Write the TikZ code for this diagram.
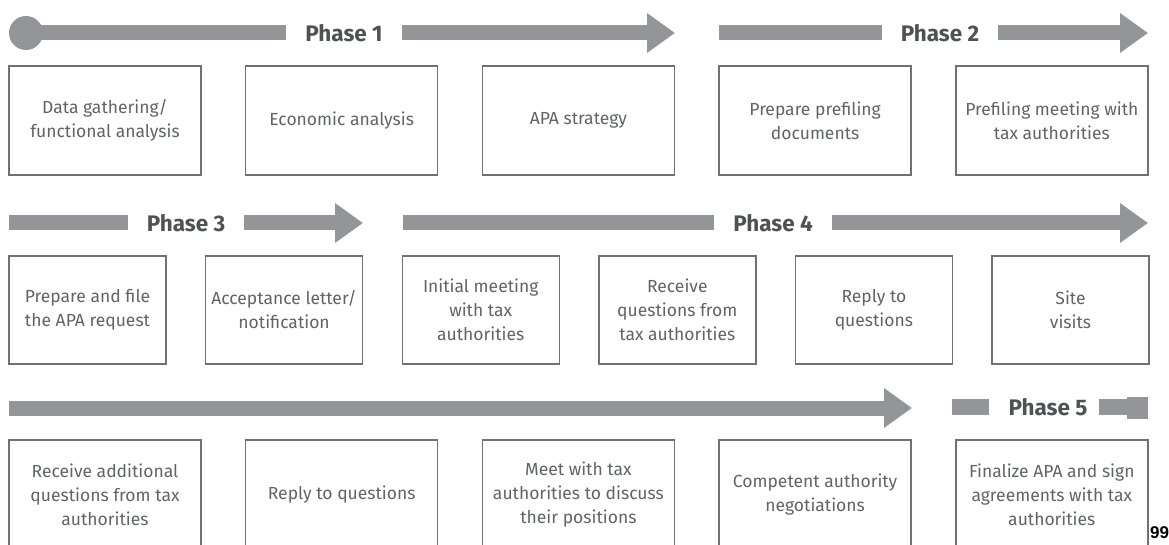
\documentclass[tikz,border=0pt]{standalone}
\usepackage{fontspec}
\setmainfont{Fira Sans}
\newfontfamily\pagenumfont{Liberation Sans}
\usetikzlibrary{positioning, arrows.meta}
\definecolor{bargray}{RGB}{147,149,152}
\definecolor{linegray}{RGB}{112,113,116}
\definecolor{textgray}{RGB}{98,99,102}
\definecolor{phasegray}{RGB}{80,81,84}

\begin{document}
\begin{tikzpicture}[
        x=1pt, y=-1pt,
        node distance=43.3pt and 43.3pt,
        every node/.style={font=\fontsize{17.5}{24}\selectfont, text=textgray},
        box/.style={draw=linegray, line width=1.4pt, rectangle, minimum width=192pt, minimum height=109pt, align=center, inner sep=2pt},
        narrowbox/.style={box, minimum width=157pt, minimum height=108pt},
        phase/.style={font=\fontsize{22.5}{26}\selectfont\bfseries, text=phasegray, inner xsep=19pt, inner ysep=0pt},
        bar/.style={draw=bargray, line width=15pt},
        arrowbar/.style={bar, -{Triangle[length=28pt, width=38pt]}}
    ]

    \useasboundingbox (0,0) rectangle (1169,545);
    \clip (0,0) rectangle (1169,545);

    % Row 1
    \node[box] (gather) at (105,120.5) {Data gathering/\\functional analysis};
    \node[box, right=of gather] (economic) {Economic analysis};
    \node[box, right=of economic] (strategy) {APA strategy};
    \node[box, right=of strategy] (prepdocs) {Prepare prefiling\\documents};
    \node[box, right=of prepdocs] (prefmeet) {Prefiling meeting with\\tax authorities};

    \node[phase] (ph1) at (344,33) {Phase 1};
    \node[phase] (ph2) at (940,33) {Phase 2};

    \coordinate (start1) at (26,33);
    \coordinate (end1) at (675,33);
    \coordinate (start2) at (719,33);
    \coordinate (end2) at (1148,33);

    \fill[bargray] (start1) circle (17pt);
    \draw[bar] (start1) -- (ph1.west);
    \draw[arrowbar] (ph1.east) -- (end1);
    \draw[bar] (start2) -- (ph2.west);
    \draw[arrowbar] (ph2.east) -- (end2);

    % Row 2
    \node[narrowbox] (filereq) at (87.5,310) {Prepare and file\\the APA request};
    \node[narrowbox, right=38.2pt of filereq] (accept) {Acceptance letter/\\notification};
    \node[narrowbox, right=38.2pt of accept] (initmeet) {Initial meeting\\with tax\\authorities};
    \node[narrowbox, right=38.2pt of initmeet] (receiveq) {Receive\\questions from\\tax authorities};
    \node[narrowbox, right=38.2pt of receiveq] (replyq) {Reply to\\questions};
    \node[narrowbox, right=38.2pt of replyq] (site) {Site\\visits};

    \node[phase] (ph3) at (186,223) {Phase 3};
    \node[phase] (ph4) at (773,223) {Phase 4};

    \coordinate (start3) at (9,223);
    \coordinate (end3) at (363,223);
    \coordinate (start4) at (403,223);
    \coordinate (end4) at (1148,223);

    \draw[bar] (start3) -- (ph3.west);
    \draw[arrowbar] (ph3.east) -- (end3);
    \draw[bar] (start4) -- (ph4.west);
    \draw[arrowbar] (ph4.east) -- (end4);

    % Row 3
    \node[box] (addq) at (105,494.5) {Receive additional\\questions from tax\\authorities};
    \node[box, right=of addq] (replyq2) {Reply to questions};
    \node[box, right=of replyq2] (discuss) {Meet with tax\\authorities to discuss\\their positions};
    \node[box, right=of discuss] (competent) {Competent authority\\negotiations};
    \node[box, right=of competent] (finalize) {Finalize APA and sign\\agreements with tax\\authorities};

    \node[phase] (ph5) at (1048,407) {Phase 5};

    \coordinate (start5) at (9,408);
    \coordinate (end5) at (912,408);
    \coordinate (start6) at (952,407);
    \coordinate (end6) at (1127,407);

    \draw[arrowbar] (start5) -- (end5);
    \draw[bar, line width=16pt] (start6) -- (ph5.west);
    \draw[bar, line width=16pt] (ph5.east) ++(-8pt,0) -- (end6);
    \fill[bargray] (1127,397) rectangle (1148,419);

    \node[font=\pagenumfont\bfseries\fontsize{17}{20}\selectfont, text=black, inner sep=0pt] (pagenum) at (1159.5,533) {99};

\end{tikzpicture}
\end{document}
